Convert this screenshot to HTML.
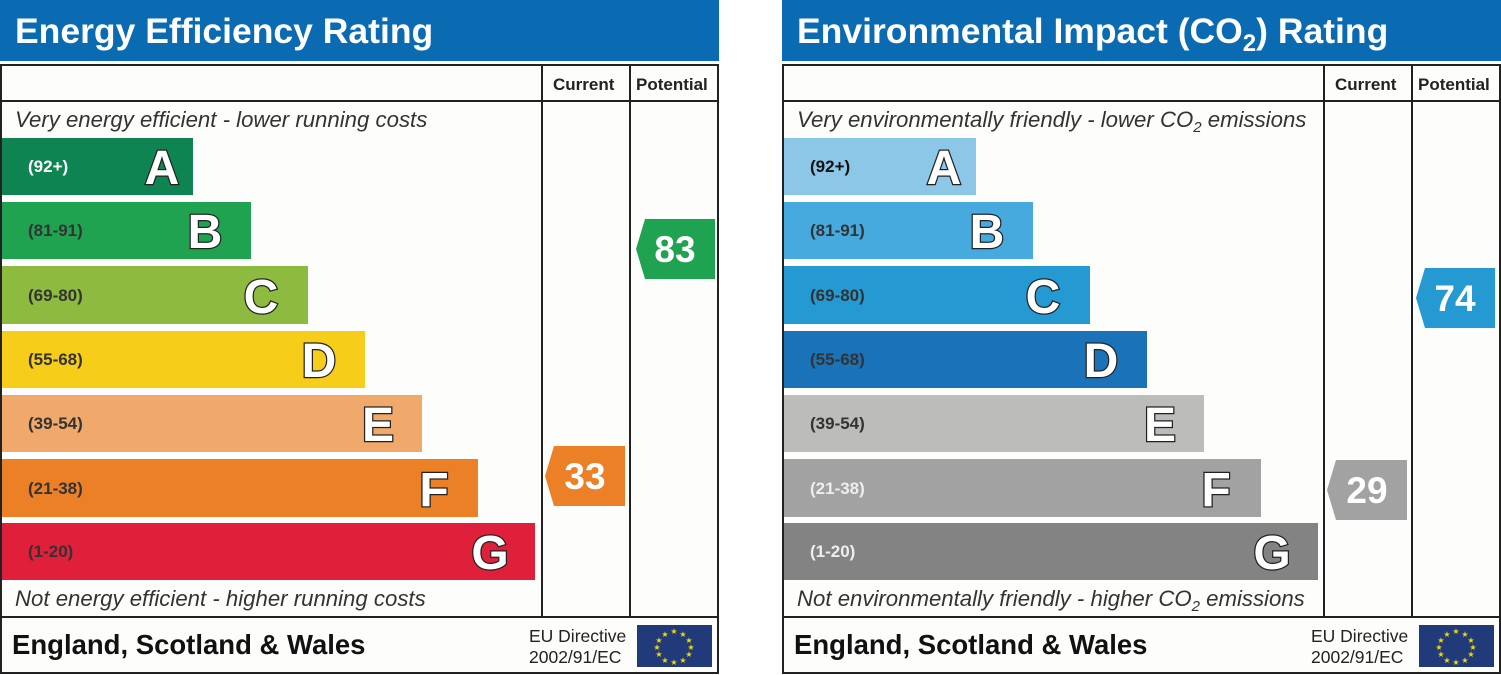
<!DOCTYPE html>
<html><head><meta charset="utf-8"><style>
html,body{margin:0;padding:0;background:#fff}
svg{display:block}
text{font-family:"Liberation Sans",sans-serif}
.t{font-size:35.5px;font-weight:bold;fill:#fff}
.h{font-size:17px;font-weight:bold;fill:#222}
.i{font-size:22.2px;font-style:italic;fill:#333}
.r{font-size:17px;font-weight:bold}
.L{font-size:48px;font-weight:bold;fill:#fff;stroke:#222;stroke-width:2.5;paint-order:stroke}
.f{font-size:27.5px;font-weight:bold;fill:#111}
.eu{font-size:17.5px;fill:#222}
.n{font-size:37px;font-weight:bold;fill:#fff}
</style></head><body>
<svg width="1501" height="675" viewBox="0 0 1501 675" xmlns="http://www.w3.org/2000/svg">
<rect width="1501" height="675" fill="#fff"/>
<defs>
<g id="frame">
<rect x="0" y="0" width="719" height="61" fill="#0a6ab2"/>
<rect x="1" y="65" width="717" height="608" fill="#fdfdfc" stroke="#222" stroke-width="2"/>
<line x1="1" y1="101" x2="718" y2="101" stroke="#222" stroke-width="2"/>
<line x1="542" y1="65" x2="542" y2="617" stroke="#222" stroke-width="2"/>
<line x1="630" y1="65" x2="630" y2="617" stroke="#222" stroke-width="2"/>
<line x1="1" y1="617" x2="718" y2="617" stroke="#222" stroke-width="2"/>
<text class="h" x="553" y="90">Current</text>
<text class="h" x="636" y="90">Potential</text>
<text class="f" x="12" y="654">England, Scotland &amp; Wales</text>
<text class="eu" x="529" y="642">EU Directive</text>
<text class="eu" x="529" y="663">2002/91/EC</text>
<rect x="637" y="625" width="75" height="42" fill="#213a7a"/>
<g fill="#f5d800" font-size="8" font-family="DejaVu Sans" text-anchor="middle">
<text x="674" y="634">★</text><text x="683" y="637">★</text><text x="689" y="643">★</text><text x="691" y="650">★</text><text x="689" y="657">★</text><text x="683" y="663">★</text><text x="674" y="665">★</text><text x="665" y="663">★</text><text x="659" y="657">★</text><text x="657" y="650">★</text><text x="659" y="643">★</text><text x="665" y="637">★</text>
</g>
</g>
</defs>

<use href="#frame"/>
<text class="t" x="15" y="43">Energy Efficiency Rating</text>
<text class="i" x="15" y="127">Very energy efficient - lower running costs</text>
<text class="i" x="15" y="606">Not energy efficient - higher running costs</text>
<rect x="2" y="138" width="191" height="57" fill="#0f8453"/>
<rect x="2" y="202" width="249" height="57" fill="#20a350"/>
<rect x="2" y="266" width="306" height="58" fill="#8dbb3f"/>
<rect x="2" y="331" width="363" height="57" fill="#f6cd18"/>
<rect x="2" y="395" width="420" height="57" fill="#f1a86b"/>
<rect x="2" y="459" width="476" height="58" fill="#ec8027"/>
<rect x="2" y="523" width="533" height="57" fill="#e0203b"/>
<text class="r" x="28" y="172" fill="#fff">(92+)</text>
<text class="r" x="28" y="236" fill="#333">(81-91)</text>
<text class="r" x="28" y="301" fill="#333">(69-80)</text>
<text class="r" x="28" y="365" fill="#333">(55-68)</text>
<text class="r" x="28" y="429" fill="#333">(39-54)</text>
<text class="r" x="28" y="494" fill="#333">(21-38)</text>
<text class="r" x="28" y="557" fill="#333">(1-20)</text>
<g text-anchor="middle">
<text class="L" x="162" y="184">A</text>
<text class="L" x="205" y="248">B</text>
<text class="L" x="261" y="313">C</text>
<text class="L" x="319" y="377">D</text>
<text class="L" x="378" y="441">E</text>
<text class="L" x="434" y="506">F</text>
<text class="L" x="490" y="569">G</text>
</g>
<polygon points="645,219 715,219 715,279 645,279 636,249" fill="#20a350"/>
<text class="n" x="675" y="262" text-anchor="middle">83</text>
<polygon points="554,446 625,446 625,506 554,506 545,476" fill="#ec8027"/>
<text class="n" x="585" y="489" text-anchor="middle">33</text>

<g transform="translate(782,0)">
<use href="#frame"/>
<text class="t" x="15" y="43">Environmental Impact (CO<tspan font-size="24" dy="8">2</tspan><tspan dy="-8">) Rating</tspan></text>
<text class="i" x="15" y="127">Very environmentally friendly - lower CO<tspan font-size="15" dy="5">2</tspan><tspan dy="-5"> emissions</tspan></text>
<text class="i" x="15" y="606">Not environmentally friendly - higher CO<tspan font-size="15" dy="5">2</tspan><tspan dy="-5"> emissions</tspan></text>
<rect x="2" y="138" width="192" height="57" fill="#8dc7e8"/>
<rect x="2" y="202" width="249" height="57" fill="#46aade"/>
<rect x="2" y="266" width="306" height="58" fill="#2599d1"/>
<rect x="2" y="331" width="363" height="57" fill="#1a72b8"/>
<rect x="2" y="395" width="420" height="57" fill="#bcbcbb"/>
<rect x="2" y="459" width="477" height="58" fill="#a2a2a2"/>
<rect x="2" y="523" width="534" height="57" fill="#838383"/>
<text class="r" x="28" y="172" fill="#111">(92+)</text>
<text class="r" x="28" y="236" fill="#333">(81-91)</text>
<text class="r" x="28" y="301" fill="#333">(69-80)</text>
<text class="r" x="28" y="365" fill="#333">(55-68)</text>
<text class="r" x="28" y="429" fill="#333">(39-54)</text>
<text class="r" x="28" y="494" fill="#eee">(21-38)</text>
<text class="r" x="28" y="557" fill="#eee">(1-20)</text>
<g text-anchor="middle">
<text class="L" x="162" y="184">A</text>
<text class="L" x="205" y="248">B</text>
<text class="L" x="261" y="313">C</text>
<text class="L" x="319" y="377">D</text>
<text class="L" x="378" y="441">E</text>
<text class="L" x="434" y="506">F</text>
<text class="L" x="490" y="569">G</text>
</g>
<polygon points="643,268 713,268 713,328 643,328 634,298" fill="#2599d1"/>
<text class="n" x="673" y="311" text-anchor="middle">74</text>
<polygon points="554,460 625,460 625,520 554,520 545,490" fill="#a2a2a2"/>
<text class="n" x="585" y="503" text-anchor="middle">29</text>
</g>
</svg>
</body></html>
